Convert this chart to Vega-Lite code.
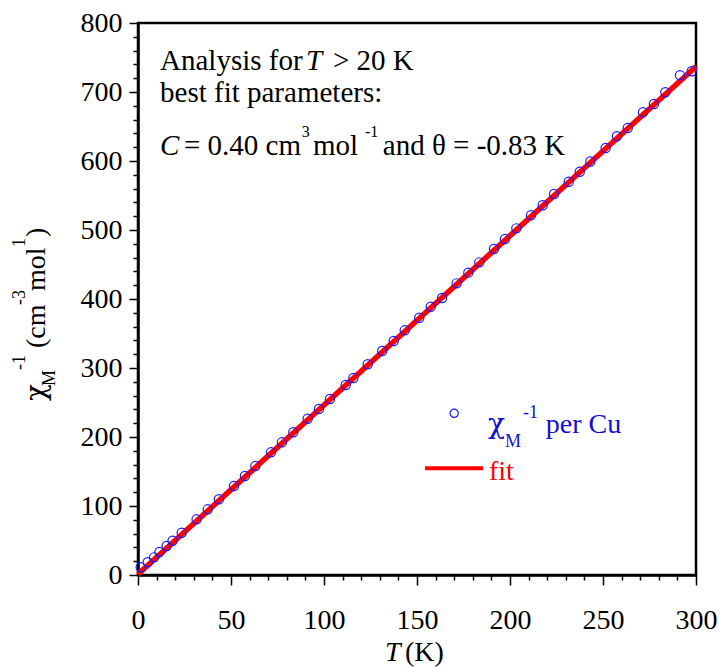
{
  "$schema": "https://vega.github.io/schema/vega-lite/v6.json",
  "width": 558,
  "height": 552,
  "autosize": {"type": "none"},
  "padding": {"left": 138, "top": 23, "right": 26, "bottom": 92},
  "background": "white",
  "config": {
    "font": "'Liberation Serif', 'Times New Roman', Times, serif",
    "view": {"stroke": "black", "strokeWidth": 2.5},
    "axis": {"labelFont": "'Liberation Serif', 'Times New Roman', Times, serif"},
    "text": {"font": "'Liberation Serif', 'Times New Roman', Times, serif", "align": "left", "baseline": "alphabetic"}
  },
  "resolve": {"axis": {"x": "independent", "y": "independent"}},
  "layer": [
    {
      "data": {"values": [{"T": 0, "chi": 1}, {"T": 300, "chi": 737}]},
      "mark": {"type": "line", "color": "#ff0000", "strokeWidth": 5.5},
      "encoding": {
        "x": {
          "field": "T", "type": "quantitative",
          "scale": {"domain": [0, 300], "nice": false, "zero": false},
          "axis": {
            "title": null, "grid": false, "orient": "bottom",
            "values": [0,10,20,30,40,50,60,70,80,90,100,110,120,130,140,150,160,170,180,190,200,210,220,230,240,250,260,270,280,290,300],
            "labelExpr": "datum.value % 50 === 0 ? datum.label : ''",
            "tickSize": {"condition": {"test": "datum.value % 50 === 0", "value": 10}, "value": 5},
            "tickColor": "black", "tickWidth": 1.5,
            "domainColor": "black", "domainWidth": 2.5,
            "labelFont": "'Liberation Serif', 'Times New Roman', Times, serif", "labelFontSize": 28, "labelColor": "black",
            "labelPadding": 21, "labelOverlap": false, "labelFlush": false
          }
        },
        "y": {
          "field": "chi", "type": "quantitative",
          "scale": {"domain": [0, 800], "nice": false, "zero": false},
          "axis": {
            "title": null, "grid": false, "orient": "left",
            "values": [0,20,40,60,80,100,120,140,160,180,200,220,240,260,280,300,320,340,360,380,400,420,440,460,480,500,520,540,560,580,600,620,640,660,680,700,720,740,760,780,800],
            "labelExpr": "datum.value % 100 === 0 ? datum.label : ''",
            "tickSize": {"condition": {"test": "datum.value % 100 === 0", "value": 9}, "value": 5},
            "tickColor": "black", "tickWidth": 1.5,
            "domainColor": "black", "domainWidth": 2.5,
            "labelFont": "'Liberation Serif', 'Times New Roman', Times, serif", "labelFontSize": 28, "labelColor": "black",
            "labelPadding": 7, "labelOverlap": false, "labelFlush": false
          }
        }
      }
    },
    {
      "data": {"values": [
        {"T": 1.45, "chi": 11.2}, {"T": 5.2, "chi": 18.4}, {"T": 8.6, "chi": 25.6}, {"T": 11.5, "chi": 33.3},
        {"T": 15.4, "chi": 42}, {"T": 18.6, "chi": 49.7}, {"T": 23.5, "chi": 61.3}, {"T": 31.5, "chi": 80.7},
        {"T": 37.5, "chi": 95.2}, {"T": 43.5, "chi": 109.7}, {"T": 51.6, "chi": 129}, {"T": 57.5, "chi": 143.5},
        {"T": 63.1, "chi": 158}, {"T": 71.5, "chi": 177.8}, {"T": 77.4, "chi": 192.3}, {"T": 83.5, "chi": 206.8},
        {"T": 91.2, "chi": 226.5}, {"T": 97.3, "chi": 240.6}, {"T": 103.2, "chi": 255}, {"T": 111.7, "chi": 275.4},
        {"T": 115.8, "chi": 285.5}, {"T": 123.5, "chi": 305.4}, {"T": 131.3, "chi": 324.6}, {"T": 137.5, "chi": 339.1},
        {"T": 143.4, "chi": 354.6}, {"T": 151.2, "chi": 372.9}, {"T": 157.4, "chi": 388.8}, {"T": 163.5, "chi": 401.5},
        {"T": 171.3, "chi": 422.7}, {"T": 177.6, "chi": 438.2}, {"T": 183.5, "chi": 453.1}, {"T": 191.4, "chi": 472.5},
        {"T": 197.3, "chi": 487}, {"T": 203.4, "chi": 502.4}, {"T": 211.3, "chi": 521.3}, {"T": 217.6, "chi": 535.8},
        {"T": 223.7, "chi": 552.2}, {"T": 231.6, "chi": 570}, {"T": 237.5, "chi": 584.5}, {"T": 243.2, "chi": 599.3},
        {"T": 251.4, "chi": 618.8}, {"T": 257.5, "chi": 635.8}, {"T": 263.3, "chi": 647.8}, {"T": 271.5, "chi": 670.6},
        {"T": 277.4, "chi": 682.6}, {"T": 283.5, "chi": 699.6}, {"T": 291.4, "chi": 724.2}, {"T": 297.7, "chi": 730}
      ]},
      "mark": {"type": "point", "shape": "circle", "filled": false, "stroke": "#1a1aff", "strokeWidth": 1.2, "size": 85, "opacity": 1},
      "encoding": {
        "x": {"field": "T", "type": "quantitative", "axis": null},
        "y": {"field": "chi", "type": "quantitative", "axis": null}
      }
    },
    {
      "data": {"values": [{"s": "Analysis for"}]},
      "mark": {"type": "text", "fontSize": 29, "color": "black"},
      "encoding": {"x": {"datum": 11.83, "type": "quantitative", "axis": null}, "y": {"datum": 731.9, "type": "quantitative", "axis": null}, "text": {"field": "s"}}
    },
    {
      "data": {"values": [{"s": "T"}]},
      "mark": {"type": "text", "fontSize": 29, "fontStyle": "italic", "color": "black"},
      "encoding": {"x": {"datum": 90.3, "type": "quantitative", "axis": null}, "y": {"datum": 731.9, "type": "quantitative", "axis": null}, "text": {"field": "s"}}
    },
    {
      "data": {"values": [{"s": "> 20 K"}]},
      "mark": {"type": "text", "fontSize": 29, "color": "black"},
      "encoding": {"x": {"datum": 104.8, "type": "quantitative", "axis": null}, "y": {"datum": 731.9, "type": "quantitative", "axis": null}, "text": {"field": "s"}}
    },
    {
      "data": {"values": [{"s": "best fit parameters:"}]},
      "mark": {"type": "text", "fontSize": 29, "color": "black"},
      "encoding": {"x": {"datum": 11.83, "type": "quantitative", "axis": null}, "y": {"datum": 686, "type": "quantitative", "axis": null}, "text": {"field": "s"}}
    },
    {
      "data": {"values": [{"s": "C"}]},
      "mark": {"type": "text", "fontSize": 29, "fontStyle": "italic", "color": "black"},
      "encoding": {"x": {"datum": 11.83, "type": "quantitative", "axis": null}, "y": {"datum": 608.7, "type": "quantitative", "axis": null}, "text": {"field": "s"}}
    },
    {
      "data": {"values": [{"s": "= 0.40 cm"}]},
      "mark": {"type": "text", "fontSize": 29, "color": "black"},
      "encoding": {"x": {"datum": 24.7, "type": "quantitative", "axis": null}, "y": {"datum": 608.7, "type": "quantitative", "axis": null}, "text": {"field": "s"}}
    },
    {
      "data": {"values": [{"s": "3"}]},
      "mark": {"type": "text", "fontSize": 16, "color": "black"},
      "encoding": {"x": {"datum": 88.0, "type": "quantitative", "axis": null}, "y": {"datum": 635.2, "type": "quantitative", "axis": null}, "text": {"field": "s"}}
    },
    {
      "data": {"values": [{"s": "mol"}]},
      "mark": {"type": "text", "fontSize": 29, "color": "black"},
      "encoding": {"x": {"datum": 94.1, "type": "quantitative", "axis": null}, "y": {"datum": 608.7, "type": "quantitative", "axis": null}, "text": {"field": "s"}}
    },
    {
      "data": {"values": [{"s": "-1"}]},
      "mark": {"type": "text", "fontSize": 16, "color": "black"},
      "encoding": {"x": {"datum": 122.0, "type": "quantitative", "axis": null}, "y": {"datum": 635.2, "type": "quantitative", "axis": null}, "text": {"field": "s"}}
    },
    {
      "data": {"values": [{"s": "and θ = -0.83 K"}]},
      "mark": {"type": "text", "fontSize": 29, "color": "black"},
      "encoding": {"x": {"datum": 131.6, "type": "quantitative", "axis": null}, "y": {"datum": 608.7, "type": "quantitative", "axis": null}, "text": {"field": "s"}}
    },
    {
      "data": {"values": [{"s": "χM-1"}]},
      "mark": {"type": "point", "shape": "circle", "filled": false, "stroke": "#1a1aff", "strokeWidth": 1.2, "size": 68, "opacity": 1},
      "encoding": {"x": {"datum": 170.0, "type": "quantitative", "axis": null}, "y": {"datum": 234.3, "type": "quantitative", "axis": null}}
    },
    {
      "data": {"values": [{"s": "χ"}]},
      "mark": {"type": "text", "fontSize": 28, "color": "#1010d0", "font": "'DejaVu Serif', serif"},
      "encoding": {"x": {"datum": 188.2, "type": "quantitative", "axis": null}, "y": {"datum": 205.3, "type": "quantitative", "axis": null}, "text": {"field": "s"}}
    },
    {
      "data": {"values": [{"s": "M"}]},
      "mark": {"type": "text", "fontSize": 18, "color": "#1010d0"},
      "encoding": {"x": {"datum": 197.3, "type": "quantitative", "axis": null}, "y": {"datum": 186, "type": "quantitative", "axis": null}, "text": {"field": "s"}}
    },
    {
      "data": {"values": [{"s": "-1"}]},
      "mark": {"type": "text", "fontSize": 18, "color": "#1010d0"},
      "encoding": {"x": {"datum": 207.0, "type": "quantitative", "axis": null}, "y": {"datum": 227, "type": "quantitative", "axis": null}, "text": {"field": "s"}}
    },
    {
      "data": {"values": [{"s": "per Cu"}]},
      "mark": {"type": "text", "fontSize": 28, "color": "#1010d0"},
      "encoding": {"x": {"datum": 219.2, "type": "quantitative", "axis": null}, "y": {"datum": 205.3, "type": "quantitative", "axis": null}, "text": {"field": "s"}}
    },
    {
      "data": {"values": [{"s": "fit"}]},
      "mark": {"type": "rule", "color": "#ff0000", "strokeWidth": 4},
      "encoding": {"x": {"datum": 154.3, "type": "quantitative", "axis": null}, "x2": {"datum": 185.5}, "y": {"datum": 154.6, "type": "quantitative", "axis": null}}
    },
    {
      "data": {"values": [{"s": "fit"}]},
      "mark": {"type": "text", "fontSize": 28, "color": "#ff0000"},
      "encoding": {"x": {"datum": 188.7, "type": "quantitative", "axis": null}, "y": {"datum": 137.7, "type": "quantitative", "axis": null}, "text": {"field": "s"}}
    },
    {
      "data": {"values": [{"s": "χ"}]},
      "mark": {"type": "text", "fontSize": 28, "color": "black", "angle": 270, "font": "'DejaVu Serif', serif"},
      "encoding": {"x": {"datum": -50.0, "type": "quantitative", "axis": null}, "y": {"datum": 252.2, "type": "quantitative", "axis": null}, "text": {"field": "s"}}
    },
    {
      "data": {"values": [{"s": "M"}]},
      "mark": {"type": "text", "fontSize": 18, "color": "black", "angle": 270, "dx": 15, "dy": 10},
      "encoding": {"x": {"datum": -50.0, "type": "quantitative", "axis": null}, "y": {"datum": 252.2, "type": "quantitative", "axis": null}, "text": {"field": "s"}}
    },
    {
      "data": {"values": [{"s": "-1"}]},
      "mark": {"type": "text", "fontSize": 18, "color": "black", "angle": 270, "dx": 31, "dy": -20},
      "encoding": {"x": {"datum": -50.0, "type": "quantitative", "axis": null}, "y": {"datum": 252.2, "type": "quantitative", "axis": null}, "text": {"field": "s"}}
    },
    {
      "data": {"values": [{"s": "(cm"}]},
      "mark": {"type": "text", "fontSize": 28, "color": "black", "angle": 270, "dx": 53},
      "encoding": {"x": {"datum": -50.0, "type": "quantitative", "axis": null}, "y": {"datum": 252.2, "type": "quantitative", "axis": null}, "text": {"field": "s"}}
    },
    {
      "data": {"values": [{"s": "-3"}]},
      "mark": {"type": "text", "fontSize": 18, "color": "black", "angle": 270, "dx": 96, "dy": -20},
      "encoding": {"x": {"datum": -50.0, "type": "quantitative", "axis": null}, "y": {"datum": 252.2, "type": "quantitative", "axis": null}, "text": {"field": "s"}}
    },
    {
      "data": {"values": [{"s": "mol"}]},
      "mark": {"type": "text", "fontSize": 28, "color": "black", "angle": 270, "dx": 110},
      "encoding": {"x": {"datum": -50.0, "type": "quantitative", "axis": null}, "y": {"datum": 252.2, "type": "quantitative", "axis": null}, "text": {"field": "s"}}
    },
    {
      "data": {"values": [{"s": "1"}]},
      "mark": {"type": "text", "fontSize": 18, "color": "black", "angle": 270, "dx": 154, "dy": -20},
      "encoding": {"x": {"datum": -50.0, "type": "quantitative", "axis": null}, "y": {"datum": 252.2, "type": "quantitative", "axis": null}, "text": {"field": "s"}}
    },
    {
      "data": {"values": [{"s": ")"}]},
      "mark": {"type": "text", "fontSize": 28, "color": "black", "angle": 270, "dx": 164},
      "encoding": {"x": {"datum": -50.0, "type": "quantitative", "axis": null}, "y": {"datum": 252.2, "type": "quantitative", "axis": null}, "text": {"field": "s"}}
    },
    {
      "data": {"values": [{"s": "T"}]},
      "mark": {"type": "text", "fontSize": 28, "fontStyle": "italic", "color": "black"},
      "encoding": {"x": {"datum": 132.8, "type": "quantitative", "axis": null}, "y": {"datum": -124.6, "type": "quantitative", "axis": null}, "text": {"field": "s"}}
    },
    {
      "data": {"values": [{"s": "(K)"}]},
      "mark": {"type": "text", "fontSize": 28, "color": "black"},
      "encoding": {"x": {"datum": 143.5, "type": "quantitative", "axis": null}, "y": {"datum": -124.6, "type": "quantitative", "axis": null}, "text": {"field": "s"}}
    }
  ]
}
